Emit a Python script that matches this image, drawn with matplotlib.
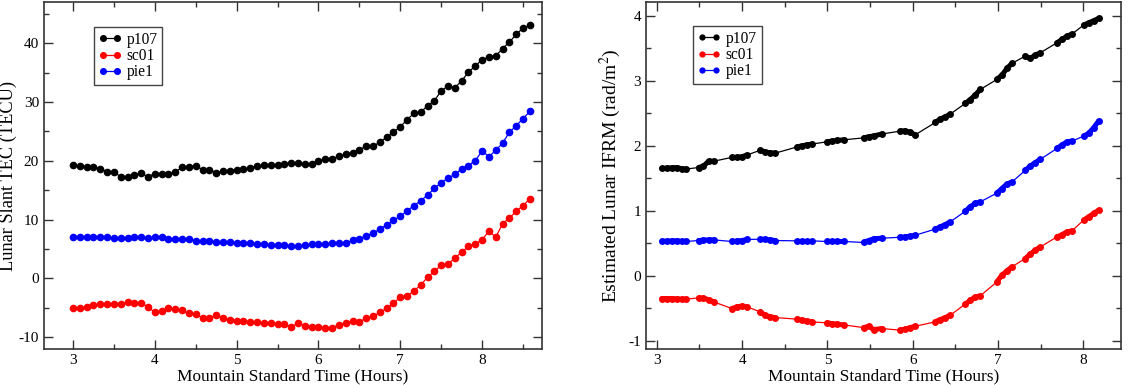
import matplotlib
matplotlib.use("Agg")
import matplotlib.pyplot as plt
import numpy as np
from matplotlib.ticker import MultipleLocator

plt.rcParams['font.family'] = ['Liberation Serif', 'DejaVu Serif']
plt.rcParams['mathtext.fontset'] = 'stix'
plt.rcParams['axes.unicode_minus'] = False

# left panel: slant TEC, one sample every 5 minutes from 3:00
tec_time = np.arange(68) / 12.0 + 3.0
tec_p107 = [19.3, 19.15, 19.0, 18.9, 18.7, 18.1, 18.1, 17.3, 17.2, 17.6,
            17.9, 17.3, 17.8, 17.85, 17.85, 18.1, 18.9, 19.0, 19.15, 18.5,
            18.5, 18.0, 18.25, 18.35, 18.5, 18.65, 18.75, 19.2, 19.25, 19.25,
            19.3, 19.55, 19.6, 19.7, 19.4, 19.5, 20.05, 20.3, 20.4, 20.75,
            21.1, 21.4, 21.9, 22.45, 22.45, 23.2, 24.0, 24.9, 25.8, 27.0,
            28.1, 28.3, 29.35, 30.25, 31.9, 32.75, 32.45, 33.6, 35.1, 36.15,
            37.2, 37.7, 37.85, 39.1, 40.2, 41.5, 42.6, 43.05]
tec_sc01 = [-4.98, -4.98, -4.87, -4.47, -4.41, -4.41, -4.3, -4.3, -4.0, -4.13,
            -4.13, -4.87, -5.77, -5.6, -5.1, -5.2, -5.43, -5.94, -6.0, -6.8,
            -6.8, -6.23, -6.8, -7.0, -7.2, -7.25, -7.36, -7.47, -7.6, -7.64,
            -7.75, -7.8, -8.26, -7.6, -8.04, -8.2, -8.3, -8.43, -8.43, -7.87,
            -7.6, -7.2, -7.36, -6.8, -6.45, -5.77, -5.1, -4.2, -3.17, -3.0,
            -2.1, -1.13, 0.23, 1.2, 2.27, 2.44, 3.46, 4.48, 5.44, 5.9,
            6.58, 8.05, 7.03, 9.3, 10.3, 11.4, 12.4, 13.54]
tec_pie1 = [6.97, 6.97, 6.97, 6.97, 6.97, 6.97, 6.86, 6.86, 6.8, 7.03,
            6.97, 6.9, 6.97, 6.97, 6.63, 6.63, 6.7, 6.7, 6.4, 6.4,
            6.3, 6.24, 6.18, 6.12, 6.07, 6.01, 5.95, 5.84, 5.78, 5.73,
            5.67, 5.61, 5.5, 5.44, 5.73, 5.78, 5.84, 5.9, 5.95, 6.07,
            6.07, 6.46, 6.74, 7.25, 7.7, 8.4, 9.1, 9.9, 10.55, 11.5,
            12.4, 13.2, 14.2, 15.3, 16.3, 17.05, 17.7, 18.65, 19.2, 20.05,
            21.7, 20.7, 21.8, 23.0, 24.9, 25.95, 27.2, 28.4]

# right panel: estimated IFRM, sampled in short bursts
burst_sizes = [6, 4, 4, 4, 4, 4, 4, 4, 4, 4, 4, 4, 4, 4]
rm_time = [3.059, 3.117, 3.176, 3.235, 3.293, 3.344,
           3.489, 3.547, 3.606, 3.665,
           3.880, 3.938, 3.997, 4.056,
           4.212, 4.270, 4.329, 4.388,
           4.642, 4.700, 4.759, 4.818,
           4.994, 5.052, 5.111, 5.189,
           5.424, 5.482, 5.541, 5.639,
           5.854, 5.912, 5.971, 6.030,
           6.264, 6.323, 6.382, 6.440,
           6.616, 6.675, 6.733, 6.792,
           6.987, 7.046, 7.105, 7.163,
           7.320, 7.378, 7.437, 7.496,
           7.691, 7.750, 7.809, 7.867,
           8.004, 8.063, 8.121, 8.180]
rm_p107 = [1.649, 1.654, 1.659, 1.664, 1.644, 1.64,
           1.664, 1.685, 1.76, 1.76,
           1.82, 1.82, 1.83, 1.855,
           1.93, 1.905, 1.89, 1.885,
           1.98, 1.998, 2.013, 2.024,
           2.06, 2.07, 2.08, 2.09,
           2.12, 2.137, 2.15, 2.18,
           2.224, 2.23, 2.203, 2.167,
           2.357, 2.41, 2.445, 2.486,
           2.65, 2.71, 2.78, 2.865,
           3.02, 3.086, 3.19, 3.266,
           3.38, 3.343, 3.394, 3.43,
           3.584, 3.635, 3.687, 3.718,
           3.856, 3.892, 3.923, 3.959]
rm_sc01 = [-0.353, -0.353, -0.353, -0.358, -0.363, -0.363,
           -0.343, -0.348, -0.37, -0.404,
           -0.507, -0.48, -0.47, -0.48,
           -0.558, -0.61, -0.636, -0.646,
           -0.67, -0.687, -0.702, -0.712,
           -0.728, -0.738, -0.748, -0.759,
           -0.8, -0.78, -0.83, -0.815,
           -0.84, -0.825, -0.8, -0.78,
           -0.712, -0.676, -0.646, -0.61,
           -0.44, -0.38, -0.328, -0.312,
           -0.097, 0.006, 0.073, 0.135,
           0.263, 0.33, 0.39, 0.44,
           0.596, 0.63, 0.673, 0.689,
           0.853, 0.905, 0.956, 1.007]
rm_pie1 = [0.525, 0.53, 0.535, 0.535, 0.525, 0.525,
           0.54, 0.545, 0.55, 0.55,
           0.525, 0.53, 0.54, 0.556,
           0.56, 0.556, 0.55, 0.54,
           0.535, 0.535, 0.535, 0.535,
           0.525, 0.525, 0.525, 0.525,
           0.51, 0.54, 0.566, 0.576,
           0.59, 0.596, 0.606, 0.622,
           0.715, 0.75, 0.786, 0.827,
           0.99, 1.06, 1.11, 1.135,
           1.27, 1.34, 1.41, 1.44,
           1.62, 1.685, 1.74, 1.79,
           1.957, 2.01, 2.06, 2.07,
           2.147, 2.19, 2.275, 2.38]

stations = ['p107', 'sc01', 'pie1']
colors = ['black', 'red', 'blue']

fig = plt.figure(figsize=(11.48, 3.85), dpi=100)
ax1 = fig.add_axes([0.0383, 0.0935, 0.4337, 0.901])
ax2 = fig.add_axes([0.5625, 0.0935, 0.4138, 0.901])

for name, c, y in zip(stations, colors, [tec_p107, tec_sc01, tec_pie1]):
    ax1.plot(tec_time, y, '-o', color=c, lw=0.9, ms=4.5, label=name)

t = np.array(rm_time)
edges = np.concatenate([[0], np.cumsum(burst_sizes)])
for name, c, y in zip(stations, colors, [rm_p107, rm_sc01, rm_pie1]):
    y = np.array(y)
    ax2.plot(t, y, '-o', color=c, lw=0.9, ms=5.0, mew=0, label=name)
    # dense bursts look like thick strokes
    for a, b in zip(edges[:-1], edges[1:]):
        ax2.plot(t[a:b], y[a:b], '-', color=c, lw=3.6,
                 solid_capstyle='round', solid_joinstyle='round')

ax1.set_xlim(2.645, 8.73)
ax1.set_ylim(-12, 47)
ax1.yaxis.set_major_locator(MultipleLocator(10))
ax1.yaxis.set_minor_locator(MultipleLocator(5))
ax1.set_ylabel('Lunar Slant TEC (TECU)', fontsize=13.2, labelpad=1)

ax2.set_xlim(2.87, 8.44)
ax2.set_ylim(-1.13, 4.21)
ax2.yaxis.set_major_locator(MultipleLocator(1))
ax2.yaxis.set_minor_locator(MultipleLocator(0.5))
ax2.set_ylabel('Estimated Lunar IFRM (rad/m$^2$)', fontsize=14, labelpad=4)

legend_pos = {ax1: (0.10, 0.928), ax2: (0.0996, 0.931)}
for ax in (ax1, ax2):
    ax.xaxis.set_major_locator(MultipleLocator(1))
    ax.xaxis.set_minor_locator(MultipleLocator(0.5))
    ax.set_xlabel('Mountain Standard Time (Hours)', fontsize=12.4, labelpad=1)
    ax.tick_params(which='both', direction='in', top=True, right=True,
                   labelsize=11, color='#333333')
    ax.tick_params(which='major', length=6.5, width=1)
    ax.tick_params(which='minor', length=3.5, width=1)
    for s in ax.spines.values():
        s.set_linewidth(1.2)
        s.set_color('#333333')
    leg = ax.legend(loc='upper left', bbox_to_anchor=legend_pos[ax], borderaxespad=0,
                    numpoints=2, fontsize=11.2, fancybox=False, framealpha=1,
                    edgecolor='#444444', handlelength=1.5, handletextpad=0.3,
                    borderpad=0.3, labelspacing=0.02, markerscale=0.9)
    leg.get_frame().set_linewidth(1.0)

fig.savefig('out.png', dpi=100)
